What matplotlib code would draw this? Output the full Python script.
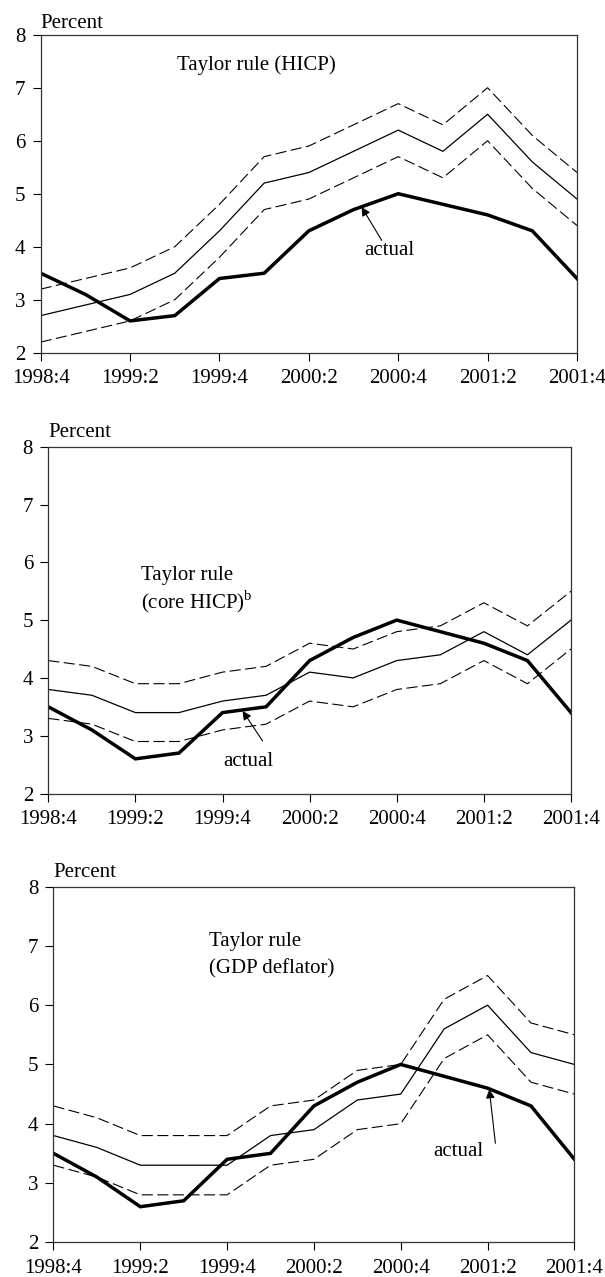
import matplotlib
matplotlib.use("Agg")
import matplotlib.pyplot as plt

plt.rcParams['font.family'] = ['Liberation Serif', 'DejaVu Serif']
plt.rcParams['mathtext.fontset'] = 'custom'
plt.rcParams['mathtext.rm'] = 'Liberation Serif'
plt.rcParams['font.size'] = 15

# quarters 1998:4 .. 2001:4
quarters = ["1998:4", "1999:1", "1999:2", "1999:3", "1999:4", "2000:1", "2000:2",
            "2000:3", "2000:4", "2001:1", "2001:2", "2001:3", "2001:4"]
tick_idx = [0, 2, 4, 6, 8, 10, 12]

actual = [3.5, 3.1, 2.6, 2.7, 3.4, 3.5, 4.3, 4.7, 5.0, 4.8, 4.6, 4.3, 3.4]

hicp_mid = [2.7, 2.9, 3.1, 3.5, 4.3, 5.2, 5.4, 5.8, 6.2, 5.8, 6.5, 5.6, 4.9]
hicp_up = [3.2, 3.4, 3.6, 4.0, 4.8, 5.7, 5.9, 6.3, 6.7, 6.3, 7.0, 6.1, 5.4]
hicp_lo = [2.2, 2.4, 2.6, 3.0, 3.8, 4.7, 4.9, 5.3, 5.7, 5.3, 6.0, 5.1, 4.4]

core_mid = [3.8, 3.7, 3.4, 3.4, 3.6, 3.7, 4.1, 4.0, 4.3, 4.4, 4.8, 4.4, 5.0]
core_up = [4.3, 4.2, 3.9, 3.9, 4.1, 4.2, 4.6, 4.5, 4.8, 4.9, 5.3, 4.9, 5.5]
core_lo = [3.3, 3.2, 2.9, 2.9, 3.1, 3.2, 3.6, 3.5, 3.8, 3.9, 4.3, 3.9, 4.5]

gdp_mid = [3.8, 3.6, 3.3, 3.3, 3.3, 3.8, 3.9, 4.4, 4.5, 5.6, 6.0, 5.2, 5.0]
gdp_up = [4.3, 4.1, 3.8, 3.8, 3.8, 4.3, 4.4, 4.9, 5.0, 6.1, 6.5, 5.7, 5.5]
gdp_lo = [3.3, 3.1, 2.8, 2.8, 2.8, 3.3, 3.4, 3.9, 4.0, 5.1, 5.5, 4.7, 4.5]

# label lines for each panel, one entry per line of text
panel_labels = [["Taylor rule (HICP)"],
                ["Taylor rule", "(core HICP)$^{\\mathrm{b}}$"],
                ["Taylor rule", "(GDP deflator)"]]

fig = plt.figure(figsize=(6.05, 12.77), dpi=100)

# axes boxes in figure fraction (left, bottom, width, height)
boxes = [[0.0673, 0.7238, 0.8864, 0.2490],
         [0.0798, 0.3786, 0.8640, 0.2716],
         [0.0884, 0.0272, 0.8610, 0.2785]]
series = [(hicp_mid, hicp_up, hicp_lo), (core_mid, core_up, core_lo), (gdp_mid, gdp_up, gdp_lo)]
label_x = [3.06, 2.13, 3.59]
label_y = [[7.42], [5.78, 5.32], [7.07, 6.62]]
actual_pos = [(7.24, 3.93), (4.01, 2.55), (8.74, 3.53)]
arrow_tip = [(7.18, 4.75), (4.46, 3.43), (10.04, 4.58)]
arrow_tail = [(7.63, 4.12), (4.92, 2.91), (10.18, 3.67)]
percent_off = [5, 7, 7]

x = list(range(len(quarters)))

for i in range(3):
    ax = fig.add_axes(boxes[i])
    mid, up, lo = series[i]
    ax.plot(x, up, color="black", lw=0.8, dashes=(10, 4))
    ax.plot(x, lo, color="black", lw=0.8, dashes=(10, 4))
    ax.plot(x, mid, color="black", lw=0.9)
    ax.plot(x, actual, color="black", lw=2.5, solid_joinstyle="miter")

    ax.set_xlim(0, 12)
    ax.set_ylim(2, 8)
    ax.set_xticks(tick_idx)
    ax.set_xticklabels([quarters[k] for k in tick_idx])
    ax.set_yticks(range(2, 9))
    ax.tick_params(direction="out", length=6, width=0.8, labelsize=15,
                   top=False, right=False)
    ax.tick_params(axis="x", pad=6)
    ax.tick_params(axis="y", pad=5)
    for sp in ax.spines.values():
        sp.set_linewidth(0.9)
        sp.set_color("#333333")

    ax.annotate("Percent", xy=(0, 1), xycoords="axes fraction",
                xytext=(0, percent_off[i]), textcoords="offset points",
                ha="left", va="baseline", fontsize=15)

    for txt, yy in zip(panel_labels[i], label_y[i]):
        ax.text(label_x[i], yy, txt, ha="left", va="center", fontsize=15)
    ax.text(actual_pos[i][0], actual_pos[i][1], "actual", ha="left",
            va="center", fontsize=15)
    ax.annotate("", xy=arrow_tip[i], xytext=arrow_tail[i],
                arrowprops=dict(arrowstyle="-|>", color="black", lw=0.8,
                                mutation_scale=13, shrinkA=0, shrinkB=0))

fig.savefig("out.png", dpi=100)
